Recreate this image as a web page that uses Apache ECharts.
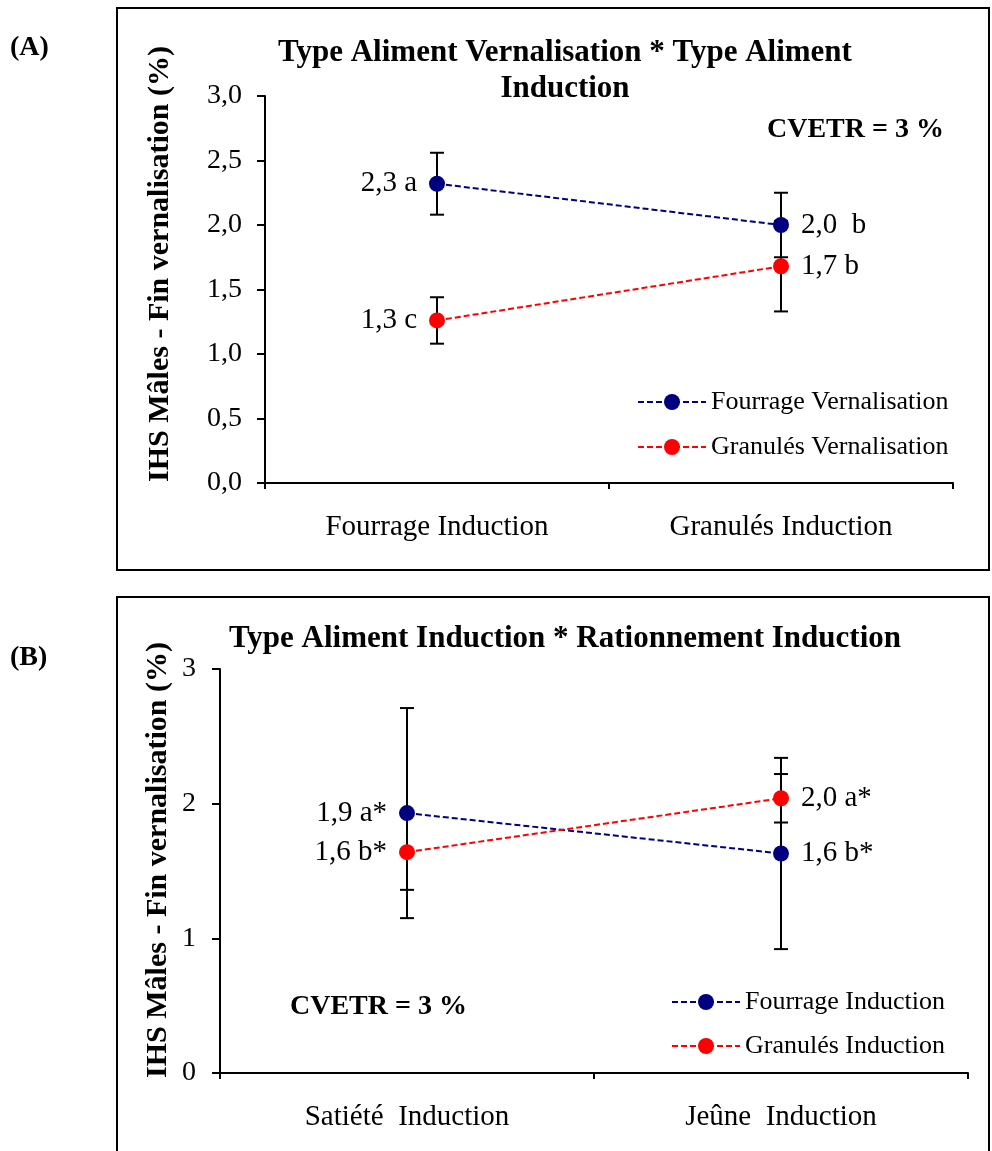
<!DOCTYPE html>
<html>
<head>
<meta charset="utf-8">
<script src="https://cdn.jsdelivr.net/npm/echarts@6/dist/echarts.min.js"></script>
<style>
  html, body { margin: 0; padding: 0; background: #fff; }
  #chart { width: 992px; height: 1151px; }
</style>
</head>
<body>
<div id="chart"></div>
<script>
// Panel A data
const catsA = ['Fourrage Induction', 'Granulés Induction'];
const fourrageVernA = [2.32, 2.00];
const fourrageVernAErr = [0.24, 0.25];
const granulesVernA = [1.26, 1.68];
const granulesVernAErr = [0.18, 0.35];
const labelsFourrageA = ['2,3 a', '2,0  b'];
const labelsGranulesA = ['1,3 c', '1,7 b'];

// Panel B data
const catsB = ['Satiété  Induction', 'Jeûne  Induction'];
const fourrageIndB = [1.93, 1.63];
const fourrageIndBErr = [0.78, 0.71];
const granulesIndB = [1.64, 2.04];
const granulesIndBErr = [0.28, 0.18];
const labelsFourrageB = ['1,9 a*', '1,6 b*'];
const labelsGranulesB = ['1,6 b*', '2,0 a*'];

const FONT = 'Liberation Serif';
const NAVY = '#000080';
const RED = '#ff0000';
const yName = 'IHS Mâles - Fin vernalisation (%)';

const chart = echarts.init(document.getElementById('chart'));

function lineSeries(name, idx, values, labels, color) {
    return {
        type: 'line',
        name: name,
        xAxisIndex: idx,
        yAxisIndex: idx,
        data: values.map(function (v, i) {
            return {
                value: v,
                label: { position: i === 0 ? 'left' : 'right' }
            };
        }),
        symbol: 'circle',
        symbolSize: 16,
        itemStyle: { color: color },
        lineStyle: { color: color, width: 2, type: [6, 3] },
        label: {
            show: true,
            distance: 12,
            fontFamily: FONT,
            fontSize: 29,
            color: '#000',
            formatter: function (p) { return labels[p.dataIndex]; }
        },
        z: 3
    };
}

function errorSeries(name, idx, values, errs) {
    return {
        type: 'custom',
        name: name + ' (err)',
        xAxisIndex: idx,
        yAxisIndex: idx,
        data: values.map(function (v, i) { return [i, v - errs[i], v + errs[i]]; }),
        renderItem: function (params, api) {
            const lo = api.coord([api.value(0), api.value(1)]);
            const hi = api.coord([api.value(0), api.value(2)]);
            const w = 7;
            const st = { stroke: '#000', lineWidth: 2 };
            return {
                type: 'group',
                children: [
                    { type: 'line', shape: { x1: lo[0], y1: lo[1], x2: hi[0], y2: hi[1] }, style: st },
                    { type: 'line', shape: { x1: lo[0] - w, y1: lo[1], x2: lo[0] + w, y2: lo[1] }, style: st },
                    { type: 'line', shape: { x1: hi[0] - w, y1: hi[1], x2: hi[0] + w, y2: hi[1] }, style: st }
                ]
            };
        },
        z: 1
    };
}

function catAxis(idx, cats) {
    return {
        type: 'category',
        gridIndex: idx,
        data: cats,
        boundaryGap: true,
        axisLine: { lineStyle: { color: '#000', width: 2 } },
        axisTick: { show: true, length: 6, lineStyle: { color: '#000', width: 2 } },
        axisLabel: { fontFamily: FONT, fontSize: 29, color: '#000', margin: 30 }
    };
}

function valAxis(idx, interval, digits, margin) {
    return {
        type: 'value',
        gridIndex: idx,
        min: 0,
        max: 3,
        interval: interval,
        splitLine: { show: false },
        axisLine: { show: true, onZero: false, lineStyle: { color: '#000', width: 2 } },
        axisTick: { show: true, length: 8, lineStyle: { color: '#000', width: 2 } },
        axisLabel: {
            fontFamily: FONT, fontSize: 28, color: '#000', margin: margin,
            formatter: function (v) { return v.toFixed(digits).replace('.', ','); }
        }
    };
}

const legendText = { fontFamily: FONT, fontSize: 26, color: '#000' };

const options = {
    backgroundColor: '#fff',
    animation: false,
    title: [
        {
            text: 'Type Aliment Vernalisation * Type Aliment\nInduction',
            left: 560, top: 30, textAlign: 'center',
            textStyle: { fontFamily: FONT, fontSize: 31, fontWeight: 'bold', color: '#000', lineHeight: 36 }
        },
        {
            text: 'Type Aliment Induction * Rationnement Induction',
            left: 560, top: 616, textAlign: 'center',
            textStyle: { fontFamily: FONT, fontSize: 31, fontWeight: 'bold', color: '#000', lineHeight: 36 }
        }
    ],
    grid: [
        { left: 265, right: 39, top: 96, bottom: 668 },
        { left: 220, right: 24, top: 669, bottom: 78 }
    ],
    xAxis: [catAxis(0, catsA), catAxis(1, catsB)],
    yAxis: [valAxis(0, 0.5, 1, 23), valAxis(1, 1, 0, 24)],
    legend: [
        {
            data: ['Fourrage Vernalisation', 'Granulés Vernalisation'],
            orient: 'vertical', left: 632, top: 384,
            itemWidth: 68, itemHeight: 20, itemGap: 19,
            textStyle: legendText
        },
        {
            data: ['Fourrage Induction', 'Granulés Induction'],
            orient: 'vertical', left: 666, top: 984,
            itemWidth: 68, itemHeight: 20, itemGap: 18,
            textStyle: legendText
        }
    ],
    graphic: [
        { type: 'rect', shape: { x: 117, y: 8, width: 872, height: 562 }, style: { fill: 'none', stroke: '#000', lineWidth: 2 }, silent: true },
        { type: 'rect', shape: { x: 117, y: 597, width: 872, height: 620 }, style: { fill: 'none', stroke: '#000', lineWidth: 2 }, silent: true },
        { type: 'text', left: 10, top: 34, style: { text: '(A)', font: 'bold 28px "Liberation Serif"', fill: '#000' } },
        { type: 'text', left: 10, top: 644, style: { text: '(B)', font: 'bold 28px "Liberation Serif"', fill: '#000' } },
        { type: 'text', x: 767, y: 116, style: { text: 'CVETR = 3 %', font: 'bold 28px "Liberation Serif"', fill: '#000' } },
        { type: 'text', x: 290, y: 993, style: { text: 'CVETR = 3 %', font: 'bold 28px "Liberation Serif"', fill: '#000' } },
        {
            type: 'text', x: 160, y: 264, rotation: Math.PI / 2,
            style: { text: yName, font: 'bold 30px "Liberation Serif"', fill: '#000', align: 'center', verticalAlign: 'middle' }
        },
        {
            type: 'text', x: 158, y: 860, rotation: Math.PI / 2,
            style: { text: yName, font: 'bold 30px "Liberation Serif"', fill: '#000', align: 'center', verticalAlign: 'middle' }
        }
    ],
    series: [
        errorSeries('Fourrage Vernalisation', 0, fourrageVernA, fourrageVernAErr),
        errorSeries('Granulés Vernalisation', 0, granulesVernA, granulesVernAErr),
        lineSeries('Fourrage Vernalisation', 0, fourrageVernA, labelsFourrageA, NAVY),
        lineSeries('Granulés Vernalisation', 0, granulesVernA, labelsGranulesA, RED),
        errorSeries('Fourrage Induction', 1, fourrageIndB, fourrageIndBErr),
        errorSeries('Granulés Induction', 1, granulesIndB, granulesIndBErr),
        lineSeries('Fourrage Induction', 1, fourrageIndB, labelsFourrageB, NAVY),
        lineSeries('Granulés Induction', 1, granulesIndB, labelsGranulesB, RED)
    ]
};

chart.setOption(options);
</script>
</body>
</html>
